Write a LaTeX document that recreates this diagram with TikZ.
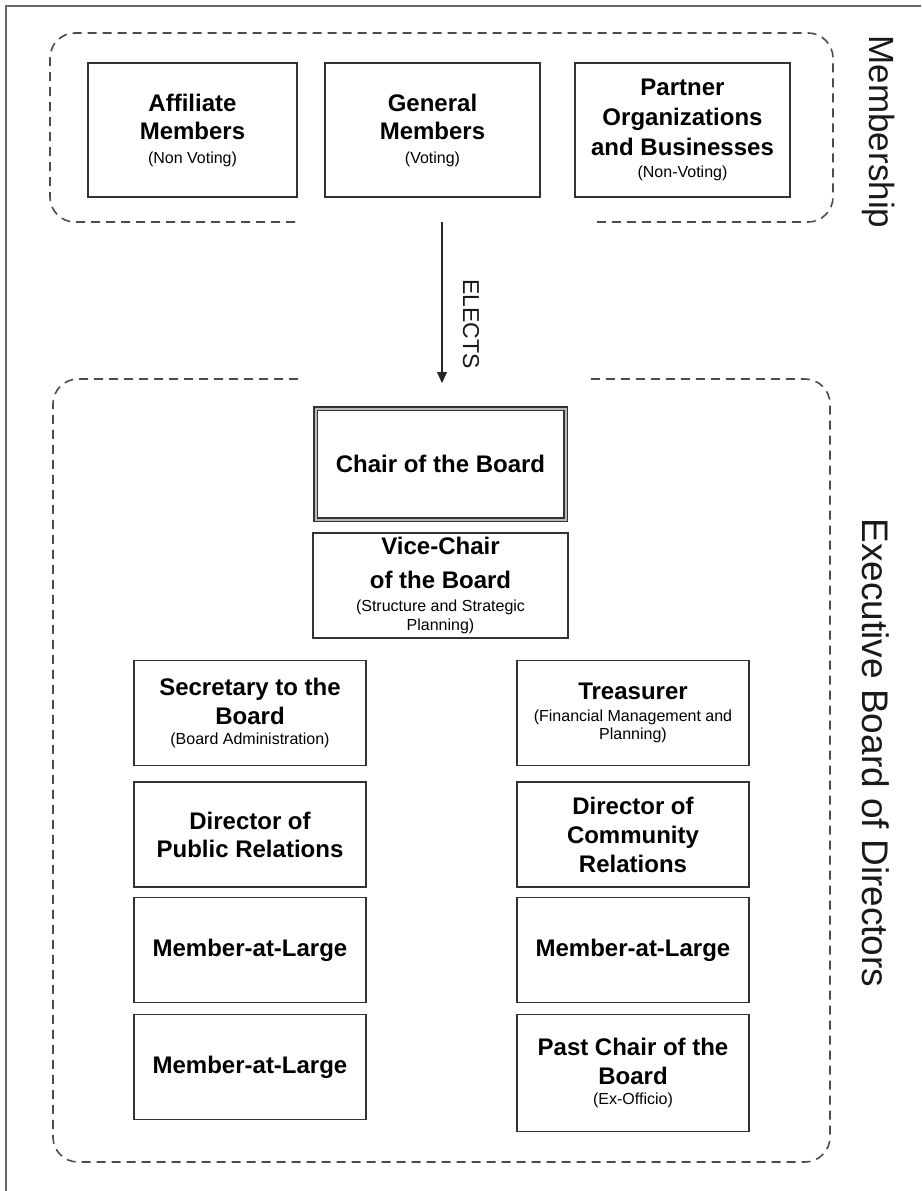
\documentclass[tikz,border=0pt]{standalone}
\usepackage{fontspec}
\setmainfont{Liberation Sans}
\usetikzlibrary{arrows.meta}
\newcommand{\subtxt}[1]{{\fontsize{16}{19}\selectfont\mdseries #1}}
\begin{document}
\begin{tikzpicture}[x=1pt,y=-1pt,
  box/.style={draw=black!80, line width=1.6pt, align=center, inner sep=0pt,
    font=\fontsize{24}{28}\selectfont\bfseries},
  memw/.style={minimum width=212pt, minimum height=134pt},
  boardw/.style={minimum width=232pt, minimum height=105pt},
  grp/.style={draw=black!70, line width=1.6pt, dash pattern=on 9pt off 6pt, rounded corners=25pt},
  side/.style={rotate=-90, inner sep=0pt, text=black!90},
  frameline/.style={draw=black!60, line width=1.5pt}]
\useasboundingbox (0,0) rectangle (921,1191);
% outer frame
\coordinate (fTL) at (6,6);
\coordinate (fTR) at (921,6);
\coordinate (fBL) at (6,1191);
\draw[frameline] (fTR) -- (fTL) -- (fBL);

% membership group
\draw[grp] (295,222) -- (50,222) -- (50,33) -- (833,33) -- (833,222) -- (597,222);
\node[box, memw, minimum width=209pt] (aff) at (192.5,130)
  {Affiliate\\Members\\[-4pt]\subtxt{(Non Voting)}};
\node[box, memw, minimum width=215pt] (gen) at (432.5,130)
  {General\\Members\\[-4pt]\subtxt{(Voting)}};
\node[box, memw, minimum width=215pt] (par) at (682.5,130)
  {Partner\\[2pt]Organizations\\[2pt]and Businesses\\[-6pt]\subtxt{(Non-Voting)}};
\node[side, font=\fontsize{35}{40}\selectfont] (memlab) at (879,132) {Membership};

% elects arrow
\coordinate (arrS) at (442,222);
\coordinate (arrE) at (442,383);
\draw[draw=black!85, line width=1.2pt, -{Triangle[length=11pt,width=10pt]}] (arrS) -- (arrE);
\node[side, font=\fontsize{23}{26}\selectfont] (elects) at (471,324) {ELECTS};

% executive board group
\draw[grp] (298,379) -- (53,379) -- (53,1162) -- (830,1162) -- (830,379) -- (590,379);
\node[side, font=\fontsize{37}{42}\selectfont] (exlab) at (876,753) {Executive Board of Directors};

\node[box, line width=1.2pt, double=gray!55, double distance=2pt,
  minimum width=250pt, minimum height=111pt] (chair) at (440.5,464) {Chair of the Board};
\node[box, minimum width=255pt, minimum height=105pt] (vice) at (440.5,585.5)
  {Vice-Chair\\[6pt]of the Board\\[-5pt]\subtxt{(Structure and Strategic}\\[-9pt]\subtxt{Planning)}};

\node[box, boardw] (sec) at (250,713)
  {Secretary to the\\[1pt]Board\\[-8pt]\subtxt{(Board Administration)}};
\node[box, boardw] (dpr) at (250,834.5)
  {Director of\\Public Relations};
\node[box, boardw] (mal1) at (250,950) {Member-at-Large};
\node[box, boardw] (mal2) at (250,1067) {Member-at-Large};

\node[box, boardw] (tre) at (633,713)
  {Treasurer\\[-6pt]\subtxt{(Financial Management and}\\[-10pt]\subtxt{Planning)}};
\node[box, boardw] (dcr) at (633,834.5)
  {Director of\\[1pt]Community\\[1pt]Relations};
\node[box, boardw] (mal3) at (633,950) {Member-at-Large};
\node[box, boardw, minimum height=117pt] (past) at (633,1073)
  {Past Chair of the\\[1pt]Board\\[-8pt]\subtxt{(Ex-Officio)}};
\end{tikzpicture}
\end{document}
